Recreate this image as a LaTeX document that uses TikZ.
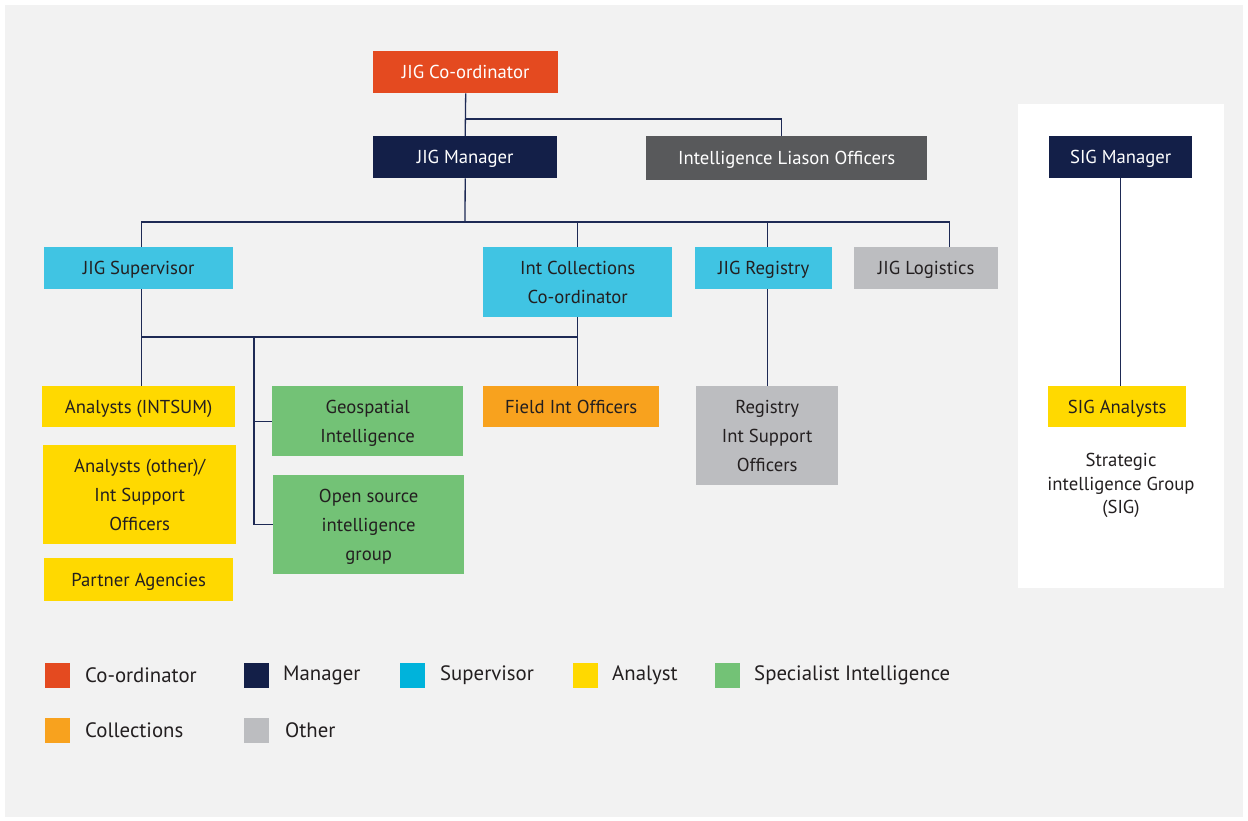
\documentclass[tikz,border=0pt]{standalone}
\usepackage{fontspec}
\setmainfont{PT Sans}
\usetikzlibrary{calc}
\definecolor{bgc}{HTML}{F2F2F2}
\definecolor{coordc}{HTML}{E44A20}
\definecolor{navy}{HTML}{131F48}
\definecolor{dgray}{HTML}{58595B}
\definecolor{cyanc}{HTML}{40C4E3}
\definecolor{cyanl}{HTML}{00B3DB}
\definecolor{yell}{HTML}{FFD900}
\definecolor{greenc}{HTML}{73C276}
\definecolor{orangec}{HTML}{F8A21E}
\definecolor{lgray}{HTML}{BCBDC0}
\definecolor{txt}{HTML}{231F20}
\definecolor{linec}{HTML}{1E2A55}
\tikzset{
  box/.style={anchor=north west, inner sep=0pt, align=center, text depth=0pt,
    font=\fontsize{18.7}{28.7}\selectfont, text=txt},
  conn/.style={draw=linec, line width=1.3pt},
  leg/.style={anchor=north west, minimum width=25pt, minimum height=25pt, inner sep=0pt},
  legt/.style={anchor=west, inner sep=0pt, font=\fontsize{20.8}{24}\selectfont, text=txt},
}
\begin{document}
\begin{tikzpicture}[x=1pt,y=-1pt]
\useasboundingbox (0,0) rectangle (1248,821);
\fill[white] (0,0) rectangle (1248,821);
\fill[bgc] (5,5) rectangle (1243,817);
\fill[white] (1018,104) rectangle (1224,588);
% top level
\node[box, fill=coordc, text=white, minimum width=185pt, minimum height=42pt] (coord) at (373,51) {JIG Co-ordinator};
\node[box, fill=navy, text=white, minimum width=184pt, minimum height=42pt] (mgr) at (373,136) {JIG Manager};
\node[box, fill=dgray, text=white, minimum width=281pt, minimum height=44pt] (ilo) at (646,136) {Intelligence Liason Officers};
% second level
\node[box, fill=cyanc, minimum width=189pt, minimum height=42pt] (sup) at (44,247) {JIG Supervisor};
\node[box, fill=cyanc, minimum width=189pt, minimum height=70pt] (ic) at (483,247) {Int Collections\\Co-ordinator};
\node[box, fill=cyanc, minimum width=137pt, minimum height=42pt] (reg) at (695,247) {JIG Registry};
\node[box, fill=lgray, minimum width=144pt, minimum height=42pt] (logi) at (854,247) {JIG Logistics};
% third level
\node[box, fill=yell, minimum width=193pt, minimum height=41pt] (intsum) at (42,386) {Analysts (INTSUM)};
\node[box, fill=yell, minimum width=193pt, minimum height=99pt] (aother) at (43,445) {Analysts (other)/\\Int Support\\Officers};
\node[box, fill=yell, minimum width=189pt, minimum height=43pt] (partner) at (44,558) {Partner Agencies};
\node[box, fill=greenc, minimum width=191pt, minimum height=70pt] (geo) at (272,386) {Geospatial\\Intelligence};
\node[box, fill=greenc, minimum width=191pt, minimum height=99pt] (osint) at (273,475) {Open source\\intelligence\\group};
\node[box, fill=orangec, minimum width=176pt, minimum height=41pt] (fio) at (483,386) {Field Int Officers};
\node[box, fill=lgray, minimum width=142pt, minimum height=99pt] (ris) at (696,386) {Registry\\Int Support\\Officers};
% SIG
\node[box, fill=navy, text=white, minimum width=143pt, minimum height=42pt] (sigm) at (1049,136) {SIG Manager};
\node[box, fill=yell, minimum width=138pt, minimum height=41pt] (siga) at (1048,386) {SIG Analysts};
\node[anchor=north, inner sep=0pt, align=center, text=txt, font=\fontsize{18.7}{23.5}\selectfont] (sigt) at (1121,453) {Strategic\\intelligence Group\\(SIG)};
% connectors
\coordinate (j1) at (465,119);
\coordinate (b1) at (465,222);
\coordinate (b2) at (141,337);
\coordinate (v) at (254,337);
\draw[conn] (coord.south) -- (mgr.north);
\draw[conn] (j1) -| ([xshift=-5.5pt]ilo.north);
\draw[conn] (mgr.south) -- (b1);
\draw[conn] ([xshift=2.5pt]sup.north) |- ([xshift=23pt]logi.north |- b1) -- ([xshift=23pt]logi.north);
\draw[conn] (ic.north |- b1) -- (ic.north);
\draw[conn] ([xshift=3.5pt]reg.north |- b1) -- ([xshift=3.5pt]reg.north);
\draw[conn] ([xshift=2.5pt]sup.south) -- ([xshift=2.5pt]intsum.north);
\draw[conn] (b2) -- (ic.south |- b2);
\draw[conn] (ic.south) -- (ic.south |- fio.north);
\draw[conn] (v) |- (geo.west);
\draw[conn] (v) |- (osint.west);
\draw[conn] ([xshift=3.5pt]reg.south) -- (ris.north);
\draw[conn] (sigm.south) -- (sigm.south |- siga.north);
% legend
\node[leg, fill=coordc] (l1) at (45,663) {};
\node[legt] (t1) at (85,675.5) {Co-ordinator};
\node[leg, fill=navy] (l2) at (244,663) {};
\node[legt] (t2) at (283,675.5) {Manager};
\node[leg, fill=cyanl] (l3) at (400,663) {};
\node[legt] (t3) at (440,675.5) {Supervisor};
\node[leg, fill=yell] (l4) at (573,663) {};
\node[legt] (t4) at (612,675.5) {Analyst};
\node[leg, fill=greenc] (l5) at (715,663) {};
\node[legt] (t5) at (754,675.5) {Specialist Intelligence};
\node[leg, fill=orangec] (l6) at (45,718) {};
\node[legt] (t6) at (85,730.5) {Collections};
\node[leg, fill=lgray] (l7) at (244,718) {};
\node[legt] (t7) at (285,730.5) {Other};
\end{tikzpicture}
\end{document}
